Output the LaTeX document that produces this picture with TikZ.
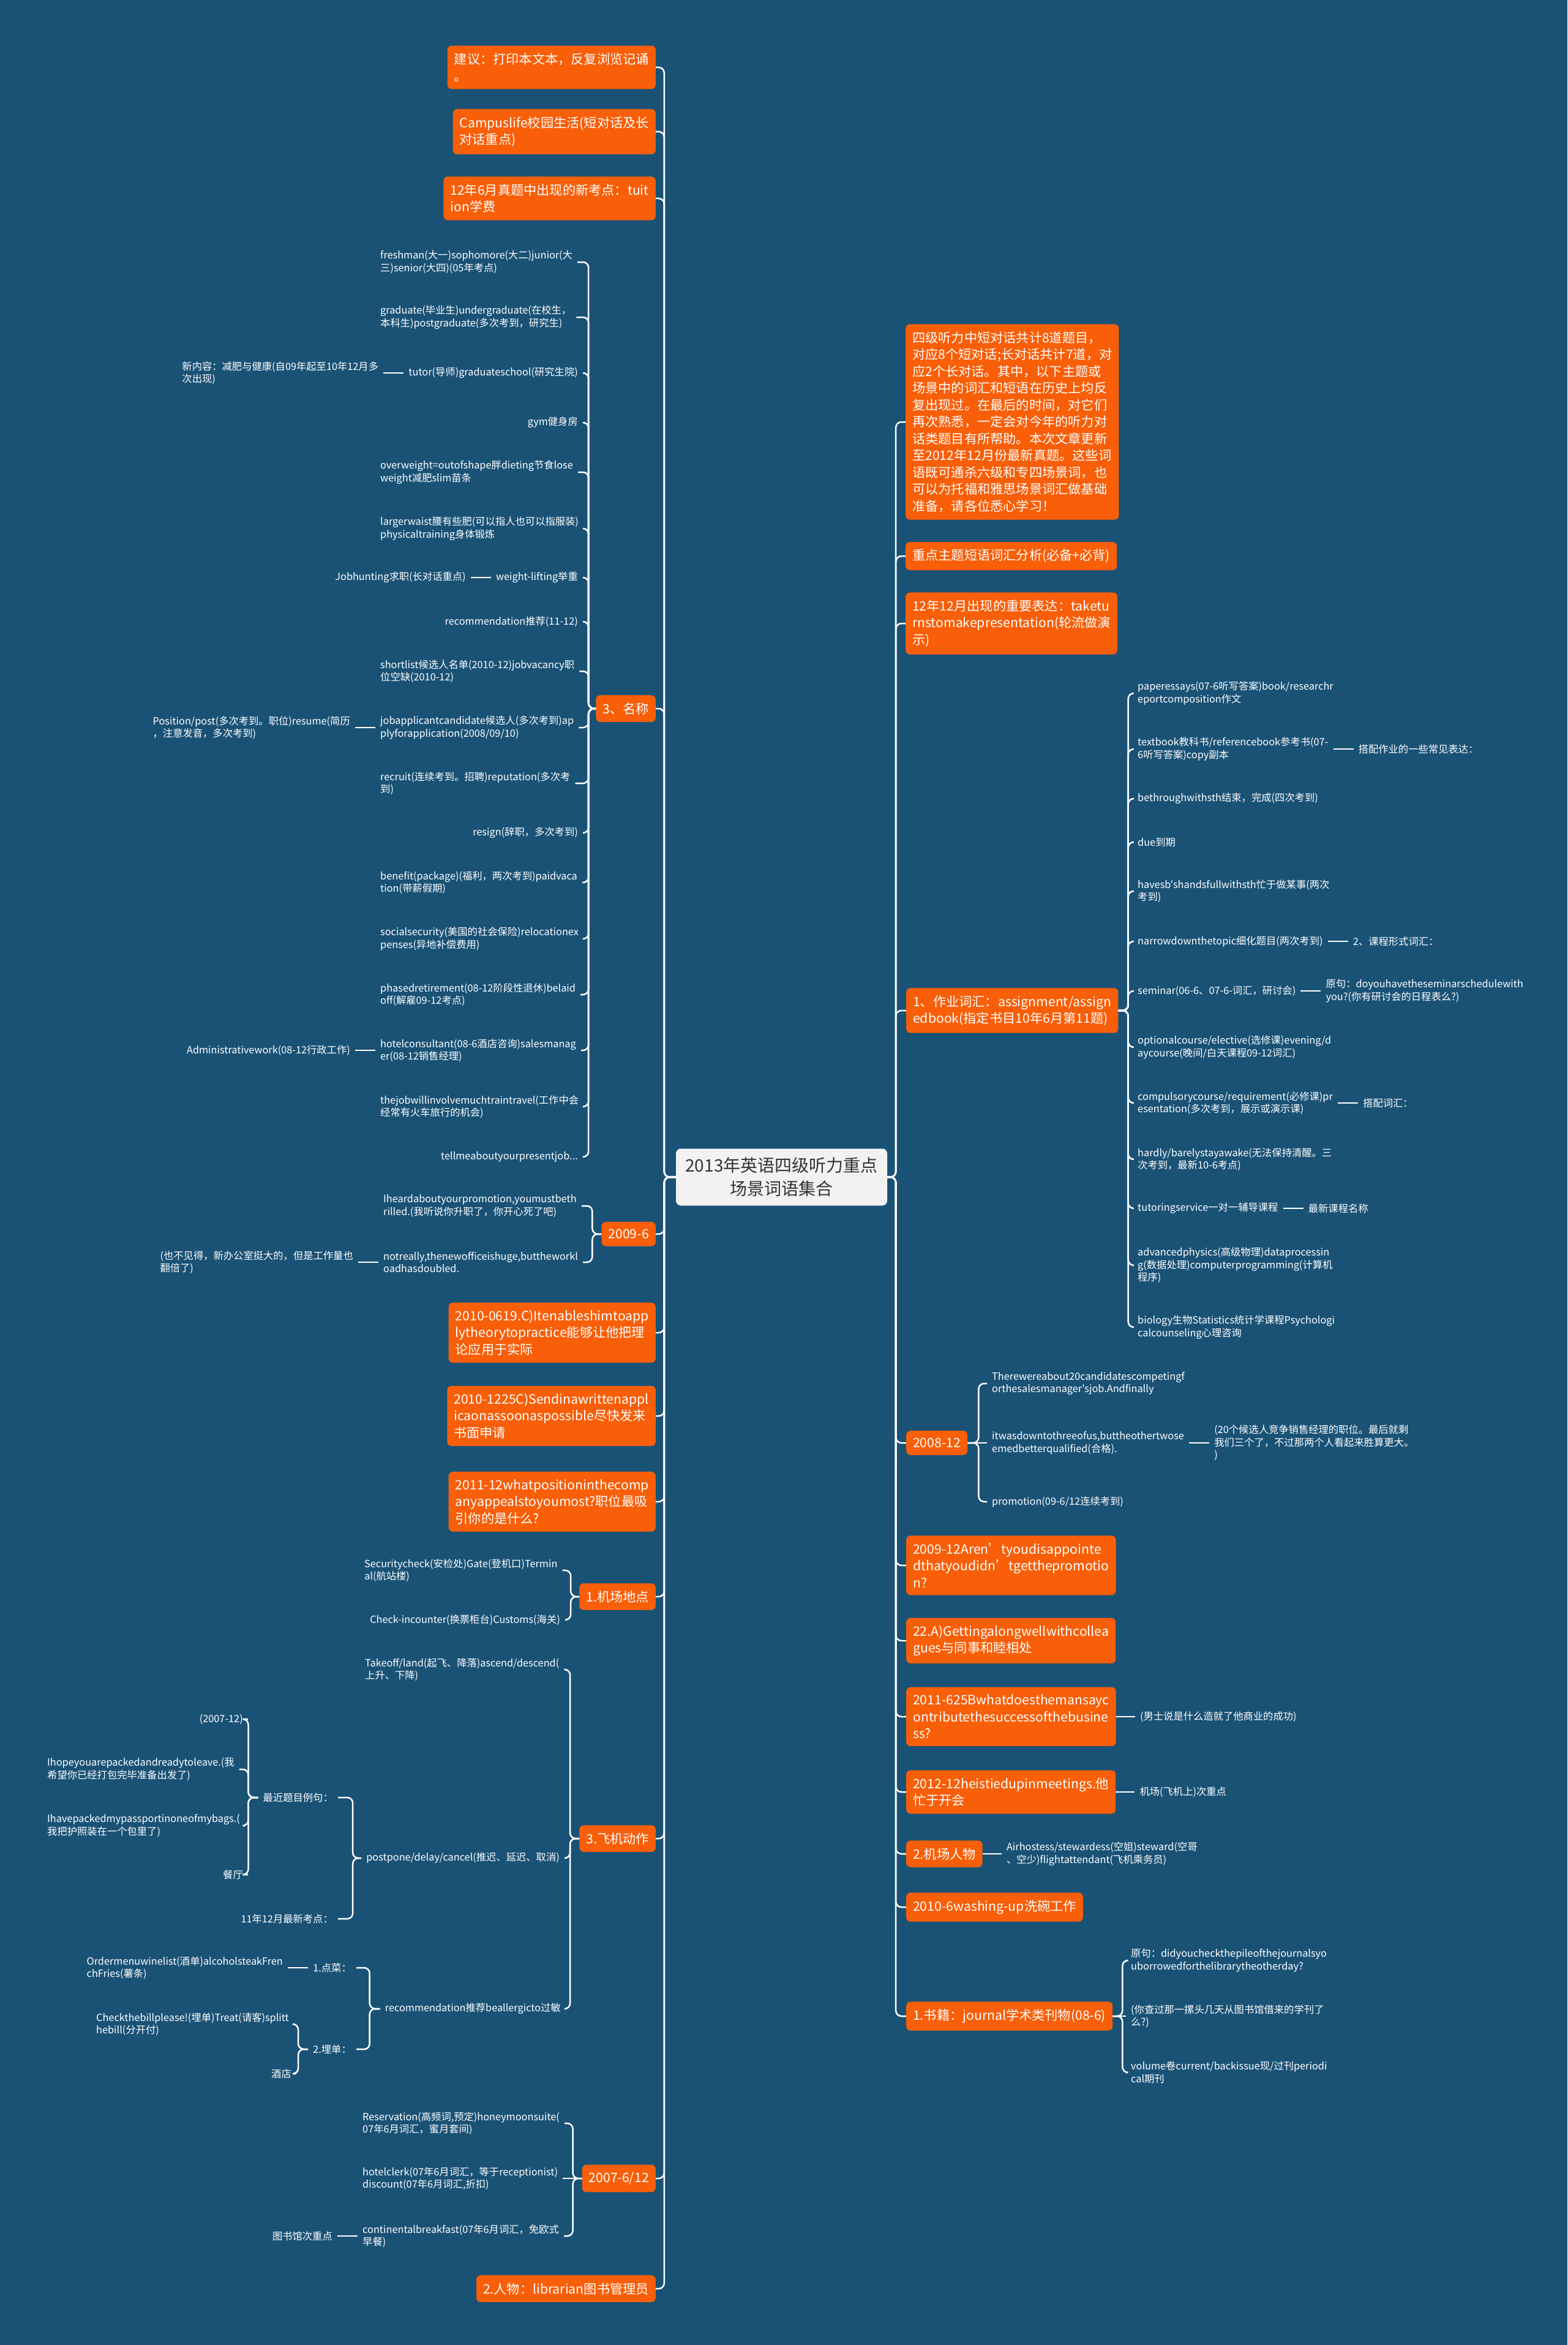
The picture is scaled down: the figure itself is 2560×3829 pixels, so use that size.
\documentclass[tikz,border=0pt]{standalone}
\usepackage{fontspec}
\setmainfont{Noto Sans CJK SC}[Ligatures=TeXOff]
\usetikzlibrary{positioning}
\definecolor{bgc}{RGB}{26,82,118}
\definecolor{orgc}{RGB}{249,94,8}
\definecolor{rootf}{RGB}{242,242,242}
\definecolor{roott}{RGB}{51,51,51}
\newcommand\brL[3]{\draw[conn] (#1.west) -- ++(-#2,0) |- (#3.east);}
\newcommand\brR[3]{\draw[conn] (#1.east) -- ++(#2,0) |- (#3.west);}
\newcommand\lnL[2]{\draw[conn] (#1.west) -- (#2.east);}
\newcommand\lnR[2]{\draw[conn] (#1.east) -- (#2.west);}
\begin{document}
\begin{tikzpicture}[x=1pt,y=-1pt,
  box/.style={fill=orgc,text=white,rounded corners=7pt,inner xsep=11pt,inner ysep=12pt,align=left,font=\fontsize{21.2}{27.5}\selectfont},
  leaf/.style={text=white,inner xsep=8pt,inner ysep=3pt,align=left,font=\fontsize{16.3}{20.5}\selectfont},
  conn/.style={draw=white,line width=2.5pt,rounded corners=9pt},
  rootbox/.style={fill=rootf,text=roott,rounded corners=8pt,minimum width=345pt,minimum height=93pt,align=center,font=\fontsize{28}{38}\selectfont},
  node distance=33pt]
\fill[bgc] (0,0) rectangle (2560,3829);
\useasboundingbox (0,0) rectangle (2560,3829);

% root
\node[rootbox] (root) at (1276.5,1922) {2013年英语四级听力重点\\场景词语集合};

% ---------- left main boxes
\node[box,anchor=east] (L1) at (1071,110) {建议：打印本文本，反复浏览记诵\\。};
\node[box,anchor=east] (L2) at (1071,215) {Campuslife校园生活(短对话及长\\对话重点)};
\node[box,anchor=east] (L3) at (1071,324) {12年6月真题中出现的新考点：tuit\\ion学费};
\node[box,anchor=east] (L4) at (1071,1157) {3、名称};
\node[box,anchor=east] (L5) at (1071,2015) {2009-6};
\node[box,anchor=east] (L6) at (1071,2176) {2010-0619.C)Itenableshimtoapp\\lytheorytopractice能够让他把理\\论应用于实际};
\node[box,anchor=east] (L7) at (1071,2312) {2010-1225C)Sendinawrittenappl\\icaonassoonaspossible尽快发来\\书面申请};
\node[box,anchor=east] (L8) at (1071,2452) {2011-12whatpositioninthecomp\\anyappealstoyoumost?职位最吸\\引你的是什么?};
\node[box,anchor=east] (L9) at (1071,2607) {1.机场地点};
\node[box,anchor=east] (L10) at (1071,3002) {3.飞机动作};
\node[box,anchor=east] (L11) at (1071,3557) {2007-6/12};
\node[box,anchor=east] (L12) at (1071,3737) {2.人物：librarian图书管理员};

% ---------- 3、名称 children
\node[leaf,anchor=west] (na) at (613,428) {freshman(大一)sophomore(大二)junior(大\\三)senior(大四)(05年考点)};
\node[leaf,anchor=west] (nb) at (613,518) {graduate(毕业生)undergraduate(在校生，\\本科生)postgraduate(多次考到，研究生)};
\node[leaf,anchor=east] (nc) at (952,609) {tutor(导师)graduateschool(研究生院)};
\node[leaf,left=33pt of nc] (nc1) {新内容：减肥与健康(自09年起至10年12月多\\次出现)};
\node[leaf,anchor=east] (nd) at (952,690) {gym健身房};
\node[leaf,anchor=west] (ne) at (613,771) {overweight=outofshape胖dieting节食lose\\weight减肥slim苗条};
\node[leaf,anchor=west] (nf) at (613,863) {largerwaist腰有些肥(可以指人也可以指服装)\\physicaltraining身体锻炼};
\node[leaf,anchor=east] (ng) at (952,943) {weight-lifting举重};
\node[leaf,left=33pt of ng] (ng1) {Jobhunting求职(长对话重点)};
\node[leaf,anchor=east] (nh) at (952,1015) {recommendation推荐(11-12)};
\node[leaf,anchor=west] (ni) at (613,1096) {shortlist候选人名单(2010-12)jobvacancy职\\位空缺(2010-12)};
\node[leaf,anchor=west] (nj) at (613,1188) {jobapplicantcandidate候选人(多次考到)ap\\plyforapplication(2008/09/10)};
\node[leaf,left=33pt of nj] (nj1) {Position/post(多次考到。职位)resume(简历\\，注意发音，多次考到)};
\node[leaf,anchor=west] (nk) at (613,1279) {recruit(连续考到。招聘)reputation(多次考\\到)};
\node[leaf,anchor=east] (nl) at (952,1360) {resign(辞职，多次考到)};
\node[leaf,anchor=west] (nm) at (613,1441) {benefit(package)(福利，两次考到)paidvaca\\tion(带薪假期)};
\node[leaf,anchor=west] (nn) at (613,1533) {socialsecurity(美国的社会保险)relocationex\\penses(异地补偿费用)};
\node[leaf,anchor=west] (no) at (613,1624) {phasedretirement(08-12阶段性退休)belaid\\off(解雇09-12考点)};
\node[leaf,anchor=west] (np) at (613,1715) {hotelconsultant(08-6酒店咨询)salesmanag\\er(08-12销售经理)};
\node[leaf,left=33pt of np] (np1) {Administrativework(08-12行政工作)};
\node[leaf,anchor=west] (nq) at (613,1807) {thejobwillinvolvemuchtraintravel(工作中会\\经常有火车旅行的机会)};
\node[leaf,anchor=east] (nr) at (952,1889) {tellmeaboutyourpresentjob...};

% ---------- 2009-6 children
\node[leaf,anchor=west] (h1) at (618,1969) {Iheardaboutyourpromotion,youmustbeth\\rilled.(我听说你升职了，你开心死了吧)};
\node[leaf,anchor=west] (h2) at (618,2061) {notreally,thenewofficeishuge,buttheworkl\\oadhasdoubled.};
\node[leaf,left=33pt of h2] (h2a) {(也不见得，新办公室挺大的，但是工作量也\\翻倍了)};

% ---------- 1.机场地点
\node[leaf,anchor=west] (a1) at (587,2564) {Securitycheck(安检处)Gate(登机口)Termin\\al(航站楼)};
\node[leaf,anchor=east] (a2) at (923,2645) {Check-incounter(换票柜台)Customs(海关)};

% ---------- 3.飞机动作
\node[leaf,anchor=west] (f1) at (588,2726) {Takeoff/land(起飞、降落)ascend/descend(\\上升、下降)};
\node[leaf,anchor=east] (f2) at (922,3034) {postpone/delay/cancel(推迟、延迟、取消)};
\node[leaf,anchor=east] (f3) at (924,3280) {recommendation推荐beallergicto过敏};
\node[leaf,anchor=east] (p1) at (552,2935) {最近题目例句：};
\node[leaf,anchor=east] (p2) at (552,3133) {11年12月最新考点：};
\node[leaf,anchor=east] (q1) at (405,2807) {(2007-12)};
\node[leaf,anchor=west] (q2) at (69,2889) {Ihopeyouarepackedandreadytoleave.(我\\希望你已经打包完毕准备出发了)};
\node[leaf,anchor=west] (q3) at (69,2981) {Ihavepackedmypassportinoneofmybags.(\\我把护照装在一个包里了)};
\node[leaf,anchor=east] (q4) at (405,3061) {餐厅};
\node[leaf,anchor=east] (m1) at (582,3213) {1.点菜：};
\node[leaf,left=33pt of m1] (m1a) {Ordermenuwinelist(酒单)alcoholsteakFren\\chFries(薯条)};
\node[leaf,anchor=east] (m2) at (582,3346) {2.埋单：};
\node[leaf,anchor=west] (m2a) at (149,3305) {Checkthebillplease!(埋单)Treat(请客)splitt\\hebill(分开付)};
\node[leaf,anchor=east] (m2b) at (484,3386) {酒店};

% ---------- 2007-6/12
\node[leaf,anchor=west] (s1) at (584,3467) {Reservation(高频词,预定)honeymoonsuite(\\07年6月词汇，蜜月套间)};
\node[leaf,anchor=west] (s2) at (584,3557) {hotelclerk(07年6月词汇，等于receptionist)\\discount(07年6月词汇,折扣)};
\node[leaf,anchor=west] (s3) at (584,3651) {continentalbreakfast(07年6月词汇，免欧式\\早餐)};
\node[leaf,left=33pt of s3] (s3a) {图书馆次重点};

% ---------- right main boxes
\node[box,anchor=west] (R1) at (1479,689) {四级听力中短对话共计8道题目，\\对应8个短对话;长对话共计7道，对\\应2个长对话。其中，以下主题或\\场景中的词汇和短语在历史上均反\\复出现过。在最后的时间，对它们\\再次熟悉，一定会对今年的听力对\\话类题目有所帮助。本次文章更新\\至2012年12月份最新真题。这些词\\语既可通杀六级和专四场景词，也\\可以为托福和雅思场景词汇做基础\\准备，请各位悉心学习！};
\node[box,anchor=west] (R2) at (1479,908) {重点主题短语词汇分析(必备+必背)};
\node[box,anchor=west] (R3) at (1479,1018) {12年12月出现的重要表达：taketu\\rnstomakepresentation(轮流做演\\示)};
\node[box,anchor=west] (R4) at (1480,1650) {1、作业词汇：assignment/assign\\edbook(指定书目10年6月第11题)};
\node[box,anchor=west] (R5) at (1480,2356) {2008-12};
\node[box,anchor=west] (R6) at (1480,2556) {2009-12Aren’tyoudisappointe\\dthatyoudidn’tgetthepromotio\\n?};
\node[box,anchor=west] (R7) at (1480,2679) {22.A)Gettingalongwellwithcollea\\gues与同事和睦相处};
\node[box,anchor=west] (R8) at (1480,2803) {2011-625Bwhatdoesthemansayc\\ontributethesuccessofthebusine\\ss?};
\node[box,anchor=west] (R9) at (1480,2926) {2012-12heistiedupinmeetings.他\\忙于开会};
\node[box,anchor=west] (R10) at (1480,3027) {2.机场人物};
\node[box,anchor=west] (R11) at (1480,3114) {2010-6washing-up洗碗工作};
\node[box,anchor=west] (R12) at (1480,3292) {1.书籍：journal学术类刊物(08-6)};

% ---------- 1、作业词汇 children
\node[leaf,anchor=west] (w1) at (1850,1132) {paperessays(07-6听写答案)book/researchr\\eportcomposition作文};
\node[leaf,anchor=west] (w2) at (1850,1223) {textbook教科书/referencebook参考书(07-\\6听写答案)copy副本};
\node[leaf,right=33pt of w2] (w2a) {搭配作业的一些常见表达：};
\node[leaf,anchor=west] (w3) at (1850,1304) {bethroughwithsth结束，完成(四次考到)};
\node[leaf,anchor=west] (w4) at (1850,1375) {due到期};
\node[leaf,anchor=west] (w5) at (1850,1455) {havesb'shandsfullwithsth忙于做某事(两次\\考到)};
\node[leaf,anchor=west] (w6) at (1850,1537) {narrowdownthetopic细化题目(两次考到)};
\node[leaf,right=33pt of w6] (w6a) {2、课程形式词汇：};
\node[leaf,anchor=west] (w7) at (1850,1618) {seminar(06-6、07-6-词汇，研讨会)};
\node[leaf,right=33pt of w7] (w7a) {原句：doyouhavetheseminarschedulewith\\you?(你有研讨会的日程表么?)};
\node[leaf,anchor=west] (w8) at (1850,1710) {optionalcourse/elective(选修课)evening/d\\aycourse(晚间/白天课程09-12词汇)};
\node[leaf,anchor=west] (w9) at (1850,1801) {compulsorycourse/requirement(必修课)pr\\esentation(多次考到，展示或演示课)};
\node[leaf,right=33pt of w9] (w9a) {搭配词汇：};
\node[leaf,anchor=west] (w10) at (1850,1893) {hardly/barelystayawake(无法保持清醒。三\\次考到，最新10-6考点)};
\node[leaf,anchor=west] (w11) at (1850,1973) {tutoringservice一对一辅导课程};
\node[leaf,right=33pt of w11] (w11a) {最新课程名称};
\node[leaf,anchor=west] (w12) at (1850,2066) {advancedphysics(高级物理)dataprocessin\\g(数据处理)computerprogramming(计算机\\程序)};
\node[leaf,anchor=west] (w13) at (1850,2167) {biology生物Statistics统计学课程Psychologi\\calcounseling心理咨询};

% ---------- 2008-12 children
\node[leaf,anchor=west] (t1) at (1612,2259) {Therewereabout20candidatescompetingf\\orthesalesmanager'sjob.Andfinally};
\node[leaf,anchor=west] (t2) at (1612,2356) {itwasdowntothreeofus,buttheothertwose\\emedbetterqualified(合格).};
\node[leaf,right=33pt of t2] (t2a) {(20个候选人竞争销售经理的职位。最后就剩\\我们三个了，不过那两个人看起来胜算更大。\\)};
\node[leaf,anchor=west] (t3) at (1612,2452) {promotion(09-6/12连续考到)};

% ---------- other right children
\node[leaf,right=31pt of R8] (R8a) {(男士说是什么造就了他商业的成功)};
\node[leaf,right=31pt of R9] (R9a) {机场(飞机上)次重点};
\node[leaf,right=31pt of R10] (R10a) {Airhostess/stewardess(空姐)steward(空哥\\、空少)flightattendant(飞机乘务员)};
\node[leaf,anchor=west] (b1) at (1839,3201) {原句：didyoucheckthepileofthejournalsyo\\uborrowedforthelibrarytheotherday?};
\node[leaf,anchor=west] (b2) at (1839,3292) {(你查过那一摞头几天从图书馆借来的学刊了\\么?)};
\node[leaf,anchor=west] (b3) at (1839,3384) {volume卷current/backissue现/过刊periodi\\cal期刊};

% ================= connectors
\foreach \c in {L1,L2,L3,L4,L5,L6,L7,L8,L9,L10,L11,L12} {\brL{root}{19}{\c}}
\foreach \c in {R1,R2,R3,R4,R5,R6,R7,R8,R9,R10,R11,R12} {\brR{root}{14}{\c}}

\foreach \c in {na,nb,nc,nd,ne,nf,ng,nh,ni,nj,nk,nl,nm,nn,no,np,nq,nr} {\brL{L4}{12}{\c}}
\lnL{nc}{nc1}
\lnL{ng}{ng1}
\lnL{nj}{nj1}
\lnL{np}{np1}

\brL{L5}{15}{h1}
\brL{L5}{15}{h2}
\lnL{h2}{h2a}

\brL{L9}{14}{a1}
\brL{L9}{14}{a2}

\brL{L10}{15}{f1}
\brL{L10}{15}{f2}
\brL{L10}{15}{f3}
\brL{f2}{14}{p1}
\brL{f2}{14}{p2}
\foreach \c in {q1,q2,q3,q4} {\brL{p1}{16}{\c}}
\brL{f3}{17}{m1}
\brL{f3}{17}{m2}
\lnL{m1}{m1a}
\brL{m2}{16}{m2a}
\brL{m2}{16}{m2b}

\brL{L11}{15}{s1}
\lnL{L11}{s2}
\brL{L11}{15}{s3}
\lnL{s3}{s3a}

\foreach \c in {w1,w2,w3,w4,w5,w6,w7,w8,w9,w10,w11,w12,w13} {\brR{R4}{16}{\c}}
\lnR{w2}{w2a}
\lnR{w6}{w6a}
\lnR{w7}{w7a}
\lnR{w9}{w9a}
\lnR{w11}{w11a}

\brR{R5}{18}{t1}
\lnR{R5}{t2}
\brR{R5}{18}{t3}
\lnR{t2}{t2a}

\lnR{R8}{R8a}
\lnR{R9}{R9a}
\lnR{R10}{R10a}

\brR{R12}{16}{b1}
\lnR{R12}{b2}
\brR{R12}{16}{b3}
\end{tikzpicture}
\end{document}
